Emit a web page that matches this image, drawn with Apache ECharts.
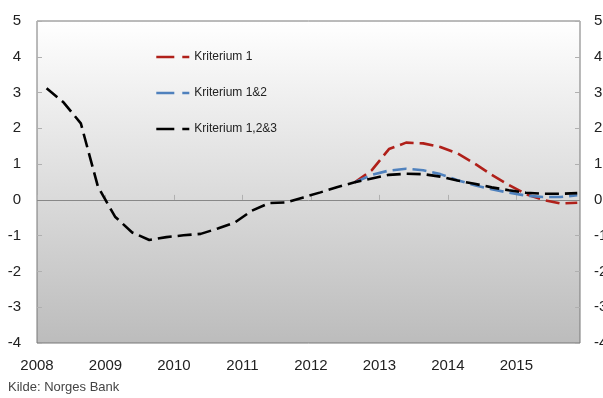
<!DOCTYPE html>
<html>
<head>
<meta charset="utf-8">
<script src="https://cdn.jsdelivr.net/npm/echarts@6/dist/echarts.min.js"></script>
<style>
  html, body { margin: 0; padding: 0; background: #fff; }
  #chart { width: 603px; height: 398px; }
</style>
</head>
<body>
<div id="chart"></div>
<script>
// Quarterly periods, 2008 K1 to 2015 K4
const years = [2008, 2009, 2010, 2011, 2012, 2013, 2014, 2015];
const quarters = [];
years.forEach(function (y) { for (let q = 1; q <= 4; q++) quarters.push([y, q]); });

const seriesNames = ['Kriterium 1', 'Kriterium 1&2', 'Kriterium 1,2&3'];

// Kriterium 1
const krit1 = [
  null, null, null, null,
  null, null, null, null,
  null, null, null, null,
  null, null, null, null,
  null, null, 0.49, 0.83,
  1.42, 1.60, 1.58, 1.48,
  1.30, 1.02, 0.70, 0.42,
  0.16, 0.00, -0.10, -0.08
];
// Kriterium 1&2
const krit12 = [
  null, null, null, null,
  null, null, null, null,
  null, null, null, null,
  null, null, null, null,
  null, null, 0.49, 0.70,
  0.82, 0.87, 0.83, 0.72,
  0.55, 0.41, 0.30, 0.20,
  0.12, 0.08, 0.08, 0.13
];
// Kriterium 1,2&3
const krit123 = [
  3.12, 2.72, 2.14, 0.37,
  -0.47, -0.91, -1.12, -1.04,
  -0.99, -0.95, -0.80, -0.63,
  -0.30, -0.09, -0.07, 0.07,
  0.21, 0.36, 0.49, 0.60,
  0.70, 0.73, 0.72, 0.65,
  0.54, 0.45, 0.35, 0.27,
  0.20, 0.17, 0.17, 0.19
];

const yTicks = [-4, -3, -2, -1, 0, 1, 2, 3, 4, 5];
const sourceText = 'Kilde: Norges Bank';

// place each quarter inside its year on a continuous time scale
function quarterPos(y, q) { return y + (q - 1) * 0.25 + 0.14; }
function toPairs(values) {
  return values.map(function (v, i) {
    return [quarterPos(quarters[i][0], quarters[i][1]), v];
  });
}

const FONT = 'Liberation Sans, Arial, sans-serif';
const colors = ['#b0201a', '#4f81bd', '#000000'];

const chart = echarts.init(document.getElementById('chart'), null, { renderer: 'canvas' });

const yAxisBase = {
  type: 'value',
  min: yTicks[0],
  max: yTicks[yTicks.length - 1],
  interval: 1,
  axisLine: { show: false },
  axisTick: { show: true, inside: true, length: 5, lineStyle: { color: '#b0b0b0' } },
  splitLine: { show: false },
  axisLabel: { color: '#222', fontSize: 15, fontFamily: FONT }
};

function lineSeries(name, values, color, z) {
  return {
    name: name,
    type: 'line',
    data: toPairs(values),
    showSymbol: false,
    symbol: 'none',
    connectNulls: false,
    z: z,
    lineStyle: { color: color, width: 2.6, type: [14, 6] },
    itemStyle: { color: color },
    emphasis: { disabled: true }
  };
}

const series = [
  lineSeries(seriesNames[0], krit1, colors[0], 3),
  lineSeries(seriesNames[1], krit12, colors[1], 4),
  lineSeries(seriesNames[2], krit123, colors[2], 5)
];
// zero line
series[0].markLine = {
  silent: true,
  symbol: 'none',
  label: { show: false },
  lineStyle: { color: '#888', width: 1, type: 'solid' },
  data: [{ yAxis: 0 }],
  z: 1
};

chart.setOption({
  animation: false,
  backgroundColor: '#fff',
  grid: {
    left: 37, right: 23, top: 21, bottom: 55,
    outerBoundsMode: 'none',
    containLabel: false,
    show: true,
    borderColor: '#777',
    borderWidth: 1,
    backgroundColor: new echarts.graphic.LinearGradient(0, 0, 0, 1, [
      { offset: 0, color: '#ffffff' },
      { offset: 1, color: '#bcbcbc' }
    ])
  },
  legend: {
    orient: 'vertical',
    left: 155,
    top: 50,
    padding: 0,
    itemWidth: 33,
    itemHeight: 14,
    itemGap: 22,
    itemStyle: { opacity: 0 },
    lineStyle: { width: 2.6, type: [18, 8] },
    textStyle: { color: '#222', fontSize: 12, fontFamily: FONT, lineHeight: 14 },
    data: seriesNames
  },
  xAxis: {
    type: 'value',
    min: years[0],
    max: 2015.93,
    interval: 1,
    axisLine: { show: false },
    axisTick: { show: true, inside: true, length: 5, lineStyle: { color: '#b0b0b0' } },
    splitLine: { show: false },
    axisLabel: {
      color: '#222', fontSize: 15, fontFamily: FONT, margin: 15,
      showMaxLabel: false,
      formatter: function (v) { return Number.isInteger(v) ? String(v) : ''; }
    }
  },
  yAxis: [
    Object.assign({}, yAxisBase, { position: 'left', axisLabel: Object.assign({}, yAxisBase.axisLabel, { margin: 16 }) }),
    Object.assign({}, yAxisBase, { position: 'right', axisLabel: Object.assign({}, yAxisBase.axisLabel, { margin: 14 }) })
  ],
  graphic: [{
    type: 'text',
    left: 8,
    top: 381,
    style: { text: sourceText, fill: '#444', fontSize: 13, fontFamily: FONT }
  }],
  series: series
});
</script>
</body>
</html>
